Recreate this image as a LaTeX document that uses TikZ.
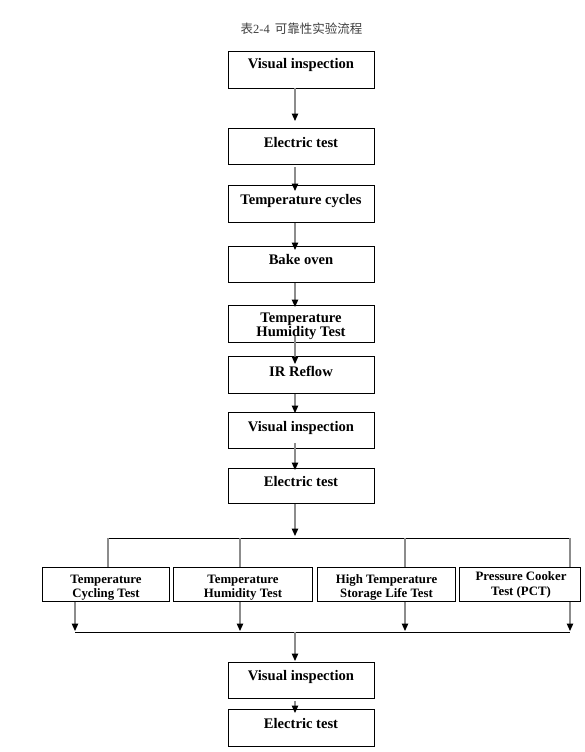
\documentclass[tikz,border=0pt]{standalone}
\usepackage{fontspec}
\setmainfont{Liberation Serif}
\newfontfamily\cjk{Noto Sans CJK SC}
\usetikzlibrary{arrows.meta,calc}
\definecolor{linegray}{HTML}{8C8C8C}
\begin{document}
\begin{tikzpicture}[x=1pt,y=-1pt,
  mainbox/.style={draw=black,line width=0.9pt,minimum width=146pt,minimum height=36.5pt,inner sep=0pt,anchor=north west},
  subbox/.style={draw=black,line width=0.9pt,minimum height=34pt,inner sep=0pt,anchor=north west},
  lab/.style={anchor=base,inner sep=0pt,font=\fontsize{14.6}{16}\selectfont\bfseries},
  slab/.style={anchor=base,inner sep=0pt,font=\fontsize{12.8}{14}\selectfont\bfseries},
  garr/.style={draw=linegray,line width=1.2pt,-{Triangle[length=7.5pt,width=6.5pt,color=black]}},
  gline/.style={draw=linegray,line width=1.2pt},
  bline/.style={draw=black,line width=1pt}]
\fill[white] (0,0) rectangle (585,752);
\useasboundingbox (0,0) rectangle (585,752);

% title
\node[anchor=base,inner sep=0pt,text=black!75,font=\fontsize{12.5}{14}\selectfont] (title) at (301.5,34) {{\cjk 表}2-4\hspace{5pt}{\cjk 可靠性实验流程}};

% main column boxes
\node[mainbox] (b1) at (228,51) {};
\node[mainbox,minimum height=36pt] (b2) at (228,128) {};
\node[mainbox,minimum height=37pt] (b3) at (228,185) {};
\node[mainbox,minimum height=36pt] (b4) at (228,246) {};
\node[mainbox,minimum height=37pt] (b5) at (228,305) {};
\node[mainbox,minimum height=37pt] (b6) at (228,356) {};
\node[mainbox,minimum height=36pt] (b7) at (228,412) {};
\node[mainbox,minimum height=35pt] (b8) at (228,468) {};
\node[mainbox,minimum height=36pt] (b9) at (228,662) {};
\node[mainbox,minimum height=37pt] (b10) at (228,709) {};

\node[lab] (t1) at (301,68) {Visual inspection};
\node[lab] (t2) at (301,147) {Electric test};
\node[lab] (t3) at (301,204) {Temperature cycles};
\node[lab] (t4) at (301,264) {Bake oven};
\node[lab] (t5a) at (301,322) {Temperature};
\node[lab] (t5b) at (301,336) {Humidity Test};
\node[lab] (t6) at (301,376) {IR Reflow};
\node[lab] (t7) at (301,431) {Visual inspection};
\node[lab] (t8) at (301,486) {Electric test};
\node[lab] (t9) at (301,680) {Visual inspection};
\node[lab] (t10) at (301,728) {Electric test};

% branch boxes
\node[subbox,minimum width=127pt] (sa) at (42,567) {};
\node[subbox,minimum width=139pt] (sb) at (173,567) {};
\node[subbox,minimum width=138pt] (sc) at (317,567) {};
\node[subbox,minimum width=121pt] (sd) at (459,567) {};

\node[slab] (ta1) at (106,583) {Temperature};
\node[slab] (ta2) at (106,597) {Cycling Test};
\node[slab] (tb1) at (243,583) {Temperature};
\node[slab] (tb2) at (243,597) {Humidity Test};
\node[slab] (tc1) at (386.5,583) {High Temperature};
\node[slab] (tc2) at (386.5,597) {Storage Life Test};
\node[slab] (td1) at (521,580) {Pressure Cooker};
\node[slab] (td2) at (521,595) {Test (PCT)};

% coordinates
\coordinate (col) at (295,0);
\coordinate (hub1) at (295,538);
\coordinate (u1) at (108,538);
\coordinate (u2) at (240,538);
\coordinate (u3) at (405,538);
\coordinate (u4) at (570,538);
\coordinate (l1) at (75,632);
\coordinate (l2) at (240,632);
\coordinate (l3) at (405,632);
\coordinate (l4) at (570,632);
\coordinate (hub2) at (295,632);

% main arrows
\draw[garr,shorten >=7pt] (b1.south -| col) -- (b2.north -| col);
\draw[garr,shorten <=2pt,shorten >=-6pt] (b2.south -| col) -- (b3.north -| col);
\draw[garr,shorten >=-4pt] (b3.south -| col) -- (b4.north -| col);
\draw[garr,shorten >=-2pt] (b4.south -| col) -- (b5.north -| col);
\draw[garr,shorten <=-7pt,shorten >=-8pt] (b5.south -| col) -- (b6.north -| col);
\draw[garr,shorten >=-1pt] (b6.south -| col) -- (b7.north -| col);
\draw[garr,shorten <=-6pt,shorten >=-2pt] (b7.south -| col) -- (b8.north -| col);
\draw[garr,shorten >=2pt] (b8.south -| col) -- (hub1);

% branch split
\draw[bline] (u1) -- (u4);
\draw[gline] (u1) -- (sa.north -| u1);
\draw[gline] (u2) -- (sb.north -| u2);
\draw[gline] (u3) -- (sc.north -| u3);
\draw[gline] (u4) -- (sd.north -| u4);

% branch merge
\draw[garr,shorten >=1pt] (sa.south -| l1) -- (l1);
\draw[garr,shorten >=1pt] (sb.south -| l2) -- (l2);
\draw[garr,shorten >=1pt] (sc.south -| l3) -- (l3);
\draw[garr,shorten >=1pt] (sd.south -| l4) -- (l4);
\draw[bline] (l1) -- (l4);

% final arrows
\draw[garr,shorten >=1pt] (hub2) -- (b9.north -| col);
\draw[garr,shorten <=2pt,shorten >=-4pt] (b9.south -| col) -- (b10.north -| col);
\end{tikzpicture}
\end{document}
